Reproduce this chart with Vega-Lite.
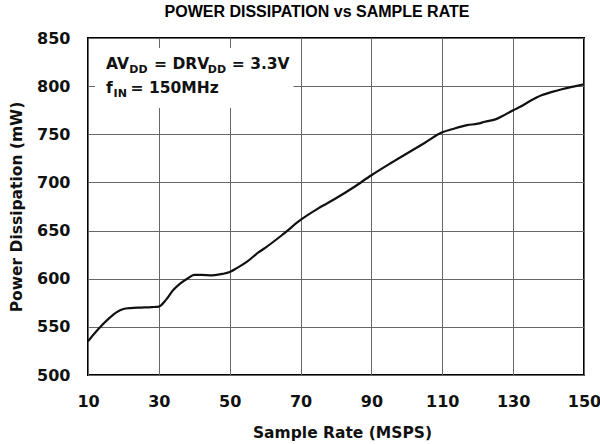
{
  "$schema": "https://vega.github.io/schema/vega-lite/v6.json",
  "width": 496,
  "height": 337,
  "autosize": "none",
  "padding": {"left": 88, "top": 38, "right": 16, "bottom": 69},
  "title": {
    "text": "POWER DISSIPATION vs SAMPLE RATE",
    "font": "Liberation Sans",
    "fontSize": 16,
    "fontWeight": "bold",
    "color": "black",
    "anchor": "middle",
    "frame": "group",
    "baseline": "alphabetic",
    "offset": 19,
    "dx": -19,
    "dy": 22
  },
  "config": {
    "view": {"stroke": "black", "strokeWidth": 2},
    "axis": {
      "labelFont": "DejaVu Sans",
      "labelFontSize": 16,
      "labelFontWeight": "bold",
      "labelColor": "#111",
      "labelFlush": false,
      "titleFont": "DejaVu Sans",
      "titleFontSize": 15.5,
      "titleFontWeight": "bold",
      "titleColor": "#111",
      "gridColor": "#666",
      "gridWidth": 1,
      "gridOpacity": 1,
      "domain": false,
      "ticks": false,
      "tickSize": 0
    },
    "text": {"font": "DejaVu Sans", "fontWeight": "bold", "color": "#111", "baseline": "alphabetic", "align": "left"}
  },
  "layer": [
    {
      "data": {"values": [
        {"rate": 10, "power": 535}, {"rate": 13, "power": 548}, {"rate": 16, "power": 559},
        {"rate": 18, "power": 565}, {"rate": 20, "power": 568.5}, {"rate": 22, "power": 569.5},
        {"rate": 25, "power": 570}, {"rate": 28, "power": 570.5}, {"rate": 30, "power": 571},
        {"rate": 32, "power": 578}, {"rate": 34, "power": 588}, {"rate": 36, "power": 595},
        {"rate": 38, "power": 600}, {"rate": 40, "power": 604}, {"rate": 42, "power": 604},
        {"rate": 45, "power": 603.5}, {"rate": 48, "power": 605}, {"rate": 50, "power": 607},
        {"rate": 52, "power": 611}, {"rate": 55, "power": 618}, {"rate": 58, "power": 627},
        {"rate": 60, "power": 632}, {"rate": 65, "power": 646}, {"rate": 70, "power": 661},
        {"rate": 75, "power": 673}, {"rate": 80, "power": 683.5}, {"rate": 85, "power": 695},
        {"rate": 90, "power": 707.5}, {"rate": 95, "power": 719}, {"rate": 100, "power": 730},
        {"rate": 105, "power": 741}, {"rate": 110, "power": 752}, {"rate": 113, "power": 755.5},
        {"rate": 117, "power": 759.5}, {"rate": 120, "power": 761}, {"rate": 122, "power": 763},
        {"rate": 125, "power": 765.5}, {"rate": 127, "power": 769}, {"rate": 130, "power": 775},
        {"rate": 132, "power": 778.5}, {"rate": 135, "power": 785}, {"rate": 138, "power": 790.5},
        {"rate": 141, "power": 794}, {"rate": 144, "power": 797}, {"rate": 147, "power": 799.5},
        {"rate": 150, "power": 802}
      ]},
      "mark": {"type": "line", "color": "#111", "strokeWidth": 2.2, "interpolate": "monotone"},
      "encoding": {
        "x": {
          "field": "rate", "type": "quantitative",
          "scale": {"domain": [10, 150], "nice": false, "zero": false},
          "axis": {
            "title": "Sample Rate (MSPS)",
            "values": [10, 30, 50, 70, 90, 110, 130, 150],
            "labelPadding": 18,
            "labelBaseline": "top",
            "titleBaseline": "alphabetic",
            "titleY": 62,
            "titleX": 254
          }
        },
        "y": {
          "field": "power", "type": "quantitative",
          "scale": {"domain": [500, 850], "nice": false, "zero": false},
          "axis": {
            "title": "Power Dissipation (mW)",
            "values": [500, 550, 600, 650, 700, 750, 800, 850],
            "labelPadding": 18,
            "titleBaseline": "middle",
            "titleAlign": "center",
            "titleX": -71.5,
            "titleY": 168.5
          }
        }
      }
    },
    {
      "data": {"values": [{"x0": 12, "x1": 68, "y0": 777.3, "y1": 839.6}]},
      "mark": {"type": "rect", "color": "white"},
      "encoding": {
        "x": {"field": "x0", "type": "quantitative"},
        "x2": {"field": "x1"},
        "y": {"field": "y0", "type": "quantitative"},
        "y2": {"field": "y1"}
      }
    },
    {
      "data": {"values": [{"t": "AV"}]},
      "mark": {"type": "text", "fontSize": 15.5},
      "encoding": {"x": {"datum": 15.1}, "y": {"datum": 818.3}, "text": {"field": "t"}}
    },
    {
      "data": {"values": [{"t": "DD"}]},
      "mark": {"type": "text", "fontSize": 11, "dx": 23.3, "dy": 4},
      "encoding": {"x": {"datum": 15.1}, "y": {"datum": 818.3}, "text": {"field": "t"}}
    },
    {
      "data": {"values": [{"t": "= DRV"}]},
      "mark": {"type": "text", "fontSize": 15.5, "dx": 48},
      "encoding": {"x": {"datum": 15.1}, "y": {"datum": 818.3}, "text": {"field": "t"}}
    },
    {
      "data": {"values": [{"t": "DD"}]},
      "mark": {"type": "text", "fontSize": 11, "dx": 101.7, "dy": 4},
      "encoding": {"x": {"datum": 15.1}, "y": {"datum": 818.3}, "text": {"field": "t"}}
    },
    {
      "data": {"values": [{"t": "= 3.3V"}]},
      "mark": {"type": "text", "fontSize": 15.5, "dx": 125.7},
      "encoding": {"x": {"datum": 15.1}, "y": {"datum": 818.3}, "text": {"field": "t"}}
    },
    {
      "data": {"values": [{"t": "f"}]},
      "mark": {"type": "text", "fontSize": 15.5},
      "encoding": {"x": {"datum": 15.1}, "y": {"datum": 792.6}, "text": {"field": "t"}}
    },
    {
      "data": {"values": [{"t": "IN"}]},
      "mark": {"type": "text", "fontSize": 11, "dx": 7.5, "dy": 3.5},
      "encoding": {"x": {"datum": 15.1}, "y": {"datum": 792.6}, "text": {"field": "t"}}
    },
    {
      "data": {"values": [{"t": "= 150MHz"}]},
      "mark": {"type": "text", "fontSize": 15.5, "dx": 24.5},
      "encoding": {"x": {"datum": 15.1}, "y": {"datum": 792.6}, "text": {"field": "t"}}
    }
  ]
}
